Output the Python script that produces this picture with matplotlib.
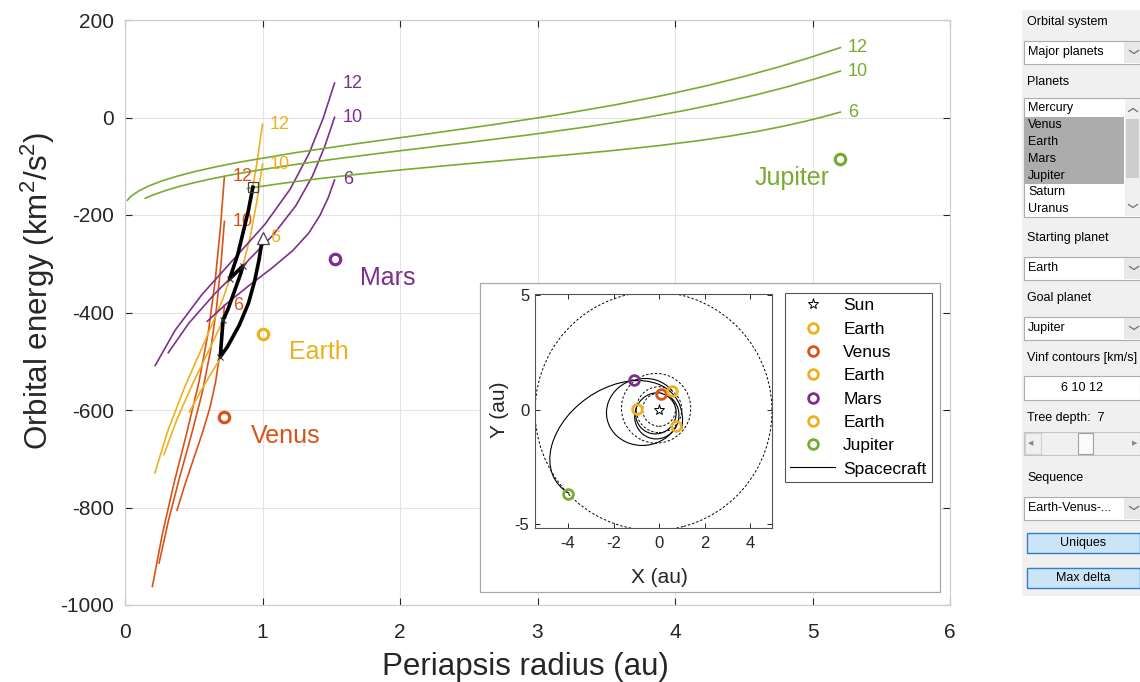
import matplotlib
matplotlib.use('Agg')
import matplotlib.pyplot as plt
from matplotlib.patches import Rectangle, Ellipse, Arc
from matplotlib.lines import Line2D

plt.rcParams['font.family'] = ['Liberation Sans', 'DejaVu Sans']
plt.rcParams['mathtext.fontset'] = 'custom'
plt.rcParams['mathtext.rm'] = 'Liberation Sans'
plt.rcParams['mathtext.it'] = 'Liberation Sans:italic'
plt.rcParams['axes.unicode_minus'] = False

# ---- data: vinf contours (periapsis radius au, orbital energy km2/s2) ----
venus_12_r = [0.723, 0.694, 0.657, 0.608, 0.5385, 0.4495, 0.355, 0.270, 0.199]
venus_12_E = [-121, -226.1, -331.3, -436.3, -541.5, -646.6, -751.7, -856.9, -962]
venus_10_r = [0.723, 0.698, 0.6666, 0.6235, 0.5624, 0.4828, 0.3966, 0.3166, 0.2477]
venus_10_E = [-213, -300.6, -388.3, -475.9, -563.5, -651.1, -738.7, -826.3, -913.9]
venus_6_r = [0.723, 0.7073, 0.6869, 0.6586, 0.6173, 0.5617, 0.4983, 0.4358, 0.378]
venus_6_E = [-385.3, -437.9, -490.4, -543, -595.5, -648, -700.6, -753.1, -805.7]

earth_12_r = [1.0, 0.954, 0.896, 0.819, 0.713, 0.578, 0.438, 0.315, 0.217]
earth_12_E = [-14, -103.4, -192.8, -282.1, -371.5, -460.9, -550.3, -639.6, -729]
earth_10_r = [1.0, 0.960, 0.911, 0.843, 0.749, 0.627, 0.498, 0.381, 0.283]
earth_10_E = [-95.6, -170.1, -244.6, -319.1, -393.5, -468, -542.5, -617, -691.4]
earth_6_r = [1.0, 0.975, 0.942, 0.898, 0.832, 0.745, 0.648, 0.554, 0.468]
earth_6_E = [-246.8, -291.5, -336.2, -380.9, -425.5, -470.2, -514.9, -559.6, -604.3]

mars_12_r = [1.524, 1.441, 1.338, 1.202, 1.018, 0.788, 0.558, 0.365, 0.220]
mars_12_E = [70.6, -1.8, -74.2, -146.6, -219, -291.4, -363.8, -436.2, -508.6]
mars_10_r = [1.524, 1.452, 1.363, 1.243, 1.077, 0.868, 0.652, 0.464, 0.315]
mars_10_E = [0.3, -60, -120.3, -180.7, -241, -301.4, -361.7, -422, -482.4]
mars_6_r = [1.524, 1.478, 1.418, 1.337, 1.220, 1.067, 0.899, 0.739, 0.599]
mars_6_E = [-128.2, -164.4, -200.6, -236.8, -273, -309.2, -345.4, -381.7, -417.9]

jup_12_r = [5.203, 4.9905, 4.760, 4.5083, 4.229, 3.917, 3.564, 3.1624, 2.712, 2.221, 1.718, 1.243,
            0.832, 0.657, 0.503, 0.3718, 0.2616, 0.1718, 0.1018, 0.0505, 0.0316, 0.0172]
jup_12_E = [143.4, 123.8, 104.2, 84.6, 65, 45.5, 25.9, 6.3, -13.3, -32.9, -52.4, -72,
            -91.6, -101.4, -111.2, -121.0, -130.8, -140.6, -150.4, -160.1, -165.0, -169.9]
jup_10_r = [5.203, 5.0158, 4.812, 4.588, 4.338, 4.056, 3.734, 3.365, 2.947, 2.487, 2.010, 1.550,
            1.138, 0.9549, 0.789, 0.6415, 0.511, 0.3965, 0.2983, 0.2154, 0.1793, 0.1468]
jup_10_E = [95.3, 79.0, 62.6, 46.3, 30, 13.7, -2.6, -18.9, -35.3, -51.6, -67.9, -84.2,
            -100.5, -108.7, -116.9, -125.0, -133.2, -141.3, -149.5, -157.7, -161.7, -165.8]
jup_6_r = [5.203, 5.076, 4.937, 4.7816, 4.606, 4.403, 4.166, 3.888, 3.565, 3.2015, 2.813, 2.4206,
           2.046, 1.7012, 1.393, 1.124, 0.890]
jup_6_E = [11.1, 1.3, -8.5, -18.3, -28.1, -37.9, -47.7, -57.5, -67.3, -77.0, -86.8, -96.6,
           -106.4, -116.2, -126, -135.8, -145.6]

planet_names = ['Venus', 'Earth', 'Mars', 'Jupiter']
planet_r = [0.723, 1.0, 1.524, 5.203]
planet_E = [-613.5, -443.5, -291, -85.3]
planet_colors = ['#D95319', '#EDB120', '#7E2F8E', '#77AC30']

# spacecraft path through the flybys
path_r = [1.0, 0.975, 0.942, 0.898, 0.832, 0.745, 0.693, 0.707, 0.714, 0.749, 0.843, 0.856, 0.760, 0.819, 0.896, 0.93]
path_E = [-246.8, -291.5, -336.2, -380.9, -425.5, -470.2, -491, -437.9, -415, -393.5, -319.1, -304.8, -331.4, -282.1, -192.8, -143]
flyby_r = [0.693, 0.714, 0.856, 0.760]
flyby_E = [-491, -415, -304.8, -331.4]

# ---- data: inset orbit view (au) ----
enc_names = ['Earth', 'Venus', 'Earth', 'Mars', 'Earth', 'Jupiter']
enc_x = [-0.98, 0.09, 0.56, -1.08, 0.73, -3.98]
enc_y = [0.04, 0.70, 0.80, 1.27, -0.71, -3.68]
enc_colors = ['#EDB120', '#D95319', '#EDB120', '#7E2F8E', '#EDB120', '#77AC30']

orbit_cx = [0.0, 0.0, -0.130, -0.2435]
orbit_cy = [0.0, 0.0, 0.058, -0.0641]
orbit_w = [1.446, 2.0, 3.048, 10.406]
orbit_h = [1.446, 2.0, 3.035, 10.394]
orbit_ang = [0, 0, 336, 14.75]

leg_cx = [-0.1382, -0.0992, -0.5719, -0.6932, -1.884]
leg_cy = [-0.1647, -0.2725, 0.0430, -0.0974, -1.3192]
leg_w = [1.81, 2.02, 2.867, 3.24, 6.4]
leg_h = [1.758, 1.935, 2.628, 2.922, 4.45]
leg_ang = [50, 70, -4.3, 8, 35]
leg_t1 = [117.0, 9.1, 38.4, 98.6, 334.5]
leg_t2 = [25.3, 349.3, 116.9, 328.4, 193.6]

W, H = 1140, 682
fig = plt.figure(figsize=(W / 100, H / 100), dpi=100)


def fx(x):
    return x / W


def fy(y):
    return 1 - y / H


# ---- main axes ----
ax = fig.add_axes([fx(125), fy(605), 825 / W, 585 / H])
contours = [
    (venus_12_r, venus_12_E, 0, '12'), (venus_10_r, venus_10_E, 0, '10'), (venus_6_r, venus_6_E, 0, '6'),
    (earth_12_r, earth_12_E, 1, '12'), (earth_10_r, earth_10_E, 1, '10'), (earth_6_r, earth_6_E, 1, '6'),
    (mars_12_r, mars_12_E, 2, '12'), (mars_10_r, mars_10_E, 2, '10'), (mars_6_r, mars_6_E, 2, '6'),
    (jup_12_r, jup_12_E, 3, '12'), (jup_10_r, jup_10_E, 3, '10'), (jup_6_r, jup_6_E, 3, '6'),
]
lab_dx = [0.06, 0.055, 0.06, 0.055]
for r, E, k, lab in contours:
    ax.plot(r, E, color=planet_colors[k], lw=1.2, zorder=2)
    ax.text(r[0] + lab_dx[k], E[0], lab, color=planet_colors[k], fontsize=13,
            ha='left', va='center', zorder=3)

ax.plot(path_r, path_E, color='k', lw=2.6, zorder=4, solid_joinstyle='round')
ax.plot(flyby_r, flyby_E, ls='none', marker='x', ms=5, mew=0.8, color='#333333', zorder=5)
ax.plot(path_r[0], path_E[0], ls='none', marker='^', ms=9, mfc='white', mec='#444444', mew=0.9, zorder=6)
ax.plot(path_r[-1], path_E[-1], ls='none', marker='s', ms=6.5, mfc='none', mec='#444444', mew=0.9, zorder=6)

name_dx = [0.19, 0.19, 0.185, -0.08]
name_dy = [-40, -38, -38, -39]
name_ha = ['left', 'left', 'left', 'right']
for i, nm in enumerate(planet_names):
    ax.plot(planet_r[i], planet_E[i], ls='none', marker='o', ms=7.5, mfc='none',
            mec=planet_colors[i], mew=2.3, zorder=3)
    ax.text(planet_r[i] + name_dx[i], planet_E[i] + name_dy[i], nm, color=planet_colors[i],
            fontsize=18, ha=name_ha[i], va='center')

ax.set_xlim(0, 6)
ax.set_ylim(-1000, 200)
ax.set_xticks(range(0, 7))
ax.set_yticks(range(-1000, 201, 200))
ax.grid(True, color='#e3e3e3', lw=0.8)
ax.set_axisbelow(True)
for s in ax.spines.values():
    s.set_color('#cccccc')
    s.set_linewidth(0.8)
ax.tick_params(direction='in', top=True, right=True, length=5, width=0.8,
               color='#262626', labelsize=15, labelcolor='#262626')
ax.tick_params(axis='y', pad=8)
ax.tick_params(axis='x', pad=13)
ax.set_xlabel('Periapsis radius (au)', fontsize=22.5, color='#262626')
ax.set_ylabel('Orbital energy (km$^2$/s$^2$)', fontsize=22.5, color='#262626')
ax.xaxis.set_label_coords(0.485, -0.08)
ax.yaxis.set_label_coords(-0.082, 0.537)

# ---- inset panel ----
fig.add_artist(Rectangle((fx(480), fy(592)), 460 / W, 309 / H, transform=fig.transFigure,
                         facecolor='white', edgecolor='#a8a8a8', lw=0.9, zorder=2))

ax_in = fig.add_axes([fx(535), fy(528), 237 / W, 234 / H], zorder=3)
for i in range(len(orbit_cx)):
    ax_in.add_patch(Ellipse((orbit_cx[i], orbit_cy[i]), orbit_w[i], orbit_h[i], angle=orbit_ang[i],
                            fill=False, ec='k', lw=0.7, ls=(0, (2.5, 2))))
for i in range(len(leg_cx)):
    ax_in.add_patch(Arc((leg_cx[i], leg_cy[i]), leg_w[i], leg_h[i], angle=leg_ang[i],
                        theta1=leg_t1[i], theta2=leg_t2[i], color='k', lw=0.8))

handles = []
h_sun, = ax_in.plot(0, 0, ls='none', marker='*', ms=8, mfc='none', mec='k', mew=0.7, label='Sun')
handles.append(h_sun)
for i, nm in enumerate(enc_names):
    h, = ax_in.plot(enc_x[i], enc_y[i], ls='none', marker='o', ms=7, mfc='none',
                    mec=enc_colors[i], mew=2.0, label=nm)
    handles.append(h)
handles.append(Line2D([], [], color='k', lw=0.8, label='Spacecraft'))

ax_in.set_xlim(-5.45, 4.96)
ax_in.set_ylim(-5.16, 5.04)
ax_in.set_xticks([-4, -2, 0, 2, 4])
ax_in.set_yticks([-5, 0, 5])
for s in ax_in.spines.values():
    s.set_color('#555555')
    s.set_linewidth(0.8)
ax_in.tick_params(direction='in', top=True, right=True, length=3.5, width=0.7,
                  color='#262626', labelsize=12, labelcolor='#262626')
ax_in.tick_params(axis='x', pad=6)
ax_in.tick_params(axis='y', pad=4)
ax_in.set_xlabel('X (au)', fontsize=15, color='#262626')
ax_in.set_ylabel('Y (au)', fontsize=15, color='#262626')
ax_in.xaxis.set_label_coords(0.527, -0.172)
ax_in.yaxis.set_label_coords(-0.11, 0.504)

leg = ax_in.legend(handles=handles, loc='upper left', bbox_to_anchor=(fx(785), fy(293)),
                   bbox_transform=fig.transFigure, borderaxespad=0, fontsize=12.5,
                   fancybox=False, edgecolor='#555555', framealpha=1, borderpad=0.3,
                   labelspacing=0.47, handlelength=2.6, handletextpad=0.45)
leg.get_frame().set_linewidth(0.8)

# ---- control panel ----
def box(x0, y0, x1, y1, fc, ec='none', lw=0.8, z=5):
    fig.add_artist(Rectangle((fx(x0), fy(y1)), (x1 - x0) / W, (y1 - y0) / H,
                             transform=fig.transFigure, facecolor=fc, edgecolor=ec, lw=lw, zorder=z))


def txt(x, y, s, ha='left', size=9, color='black'):
    fig.text(fx(x), fy(y), s, ha=ha, va='center', fontsize=size, color=color, zorder=8)


def chevron(xc, yc, up=False, color='#707070'):
    d = -3 if up else 3
    fig.add_artist(Line2D([fx(xc - 4.5), fx(xc), fx(xc + 4.5)],
                          [fy(yc - d / 2), fy(yc + d / 2), fy(yc - d / 2)],
                          transform=fig.transFigure, color=color, lw=0.9, zorder=8))


box(1022, 10, 1140, 596, '#f0f0f0', z=4)

panel_labels = ['Orbital system', 'Planets', 'Starting planet', 'Goal planet',
                'Vinf contours [km/s]', 'Tree depth:  7', 'Sequence']
panel_label_y = [22, 82, 238, 298, 358, 418, 478]
for s, y in zip(panel_labels, panel_label_y):
    txt(1027, y, s)

drop_texts = ['Major planets', 'Earth', 'Jupiter', 'Earth-Venus-...']
drop_y = [52, 268, 328, 508]
for s, y in zip(drop_texts, drop_y):
    box(1024, y - 11.5, 1140, y + 11.5, 'white', '#adadad')
    box(1124, y - 10.5, 1139.5, y + 10.5, '#e8e8e8')
    txt(1028, y, s)
    chevron(1134, y)

planet_list = ['Mercury', 'Venus', 'Earth', 'Mars', 'Jupiter', 'Saturn', 'Uranus']
planet_list_y = [108, 125, 142, 159, 176, 192, 209]
box(1024, 98, 1140, 217, 'white', '#adadad')
box(1025, 117, 1124, 183.5, '#acacac')
box(1125, 99, 1139.5, 216, '#f0f0f0')
box(1126, 119, 1139, 178, '#cdcdcd')
chevron(1133, 110, up=True)
chevron(1133, 206)
for s, y in zip(planet_list, planet_list_y):
    txt(1028, y, s)

box(1024, 376, 1140, 400, 'white', '#adadad')
txt(1082, 388, '6 10 12', ha='center')

box(1024, 432, 1140, 455, '#f0f0f0', '#c4c4c4')
box(1025, 433, 1041, 454, '#f0f0f0', '#d0d0d0')
box(1078, 433, 1093, 454, '#fbfbfb', '#a0a0a0')
txt(1031, 443.5, '\u25C0', ha='center', size=5, color='#8a8a8a')
txt(1135, 443.5, '\u25B6', ha='center', size=5, color='#8a8a8a')

button_texts = ['Uniques', 'Max delta']
button_y = [543, 578]
for s, y in zip(button_texts, button_y):
    box(1027, y - 10, 1140, y + 10, '#cce4f7', '#2f7fc8', lw=1.0)
    txt(1083, y, s, ha='center')

fig.savefig('out.png', dpi=100)
